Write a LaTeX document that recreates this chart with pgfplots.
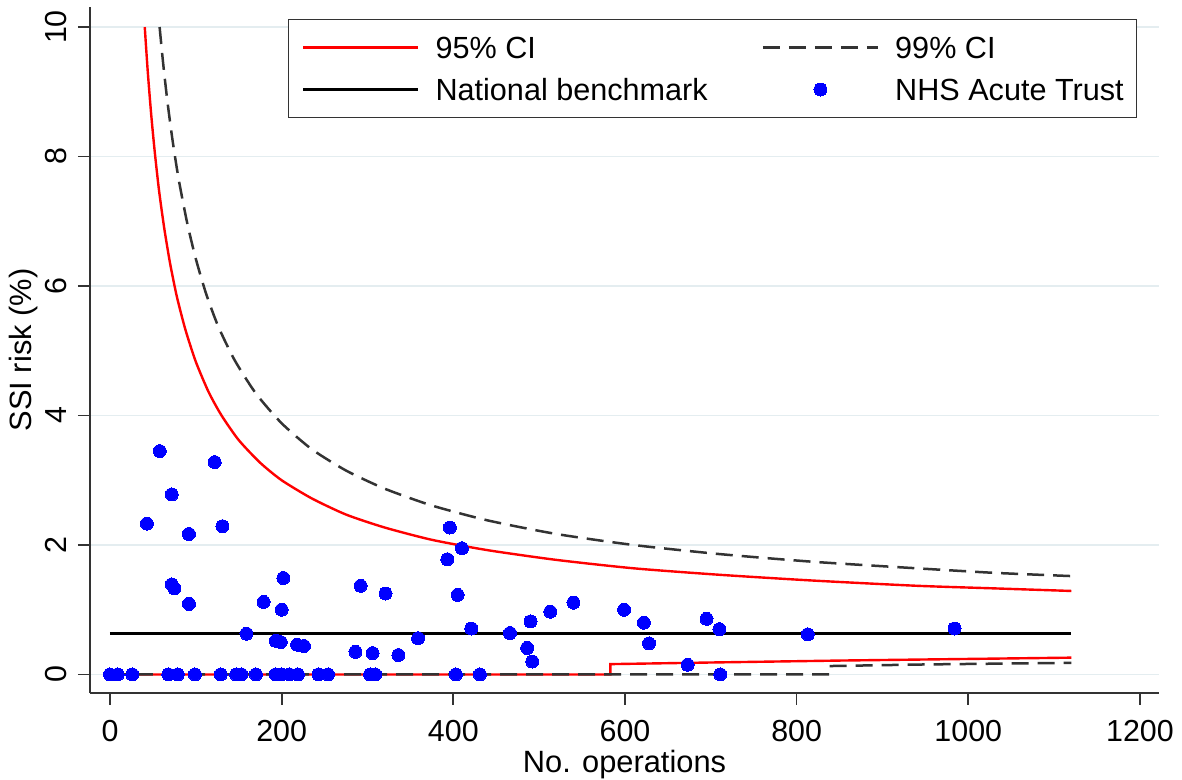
\documentclass[border=0pt]{standalone}
\usepackage{fontspec}
\setmainfont{Liberation Sans}
\usepackage{pgfplots}
\pgfplotsset{compat=1.18}
\definecolor{gridc}{RGB}{228,237,240}
\definecolor{dotblue}{RGB}{0,0,255}
\definecolor{ciRed}{RGB}{255,0,0}
\begin{document}
\begin{tikzpicture}
\begin{axis}[
  at={(45pt,43.5pt)}, anchor=south west,
  scale only axis, width=534.5pt, height=343pt,
  xmin=-23.3, xmax=1222.2, ymin=-0.286, ymax=10.31,
  axis x line*=bottom, axis y line*=left,
  axis line style={-, draw=black!80, line width=0.85pt},
  xtick={0,200,...,1200}, ytick={0,2,...,10},
  tick align=outside, major tick length=6pt,
  tick style={draw=black!80, line width=0.85pt},
  ymajorgrids, major grid style={draw=gridc, line width=0.9pt},
  /pgf/number format/assume math mode=true,
  /pgf/number format/1000 sep={},
  tick label style={font=\fontsize{15.2}{18}\selectfont, inner sep=0pt},
  xticklabel style={anchor=base, yshift=-18.3pt},
  yticklabel style={xshift=-5.65pt, rotate=90, anchor=base},
  xlabel={No. operations}, ylabel={SSI risk (\%)},
  label style={font=\fontsize{15.4}{18}\selectfont, inner sep=0pt},
  xlabel style={at={(axis description cs:0.5,-0.1165)}, anchor=base},
  ylabel style={at={(axis description cs:-0.0543,0.5)}, anchor=base},
  legend columns=2,
  legend cell align=left,
  legend style={at={(axis description cs:0.1852,0.9825)}, anchor=north west,
    draw=black!80, line width=0.6pt, font=\fontsize{15.3}{18}\selectfont,
    inner xsep=6.5pt, inner ysep=8.5pt,
    nodes={inner sep=0pt, text height=11pt, text depth=0pt},
    row sep=10pt,
    /tikz/every odd column/.append style={column sep=8pt},
    /tikz/every even column/.append style={column sep=27pt}},
  legend image code/.code={\draw[mark repeat=2, mark phase=2, #1] plot coordinates {(0pt,0pt) (28.75pt,0pt) (57.5pt,0pt)};},
]
% 95% CI upper
\addplot[ciRed, line width=1.2pt, smooth, tension=0.4] coordinates {
(40.5,10.0) (44,9.31) (48,8.65) (52,8.09) (57,7.49) (63,6.91) (70,6.35) (78,5.83)
(88,5.32) (100,4.83) (115,4.36) (130,4.00) (150,3.62) (175,3.27) (200,3.00)
(235,2.72) (275,2.47) (320,2.27) (375,2.08) (440,1.92) (520,1.77) (610,1.64)
(710,1.54) (820,1.45) (940,1.37) (1030,1.33) (1120,1.29)};
\addlegendentry{95\% CI}
% 95% CI lower
\addplot[ciRed, line width=1.2pt, forget plot] coordinates {
(0,0) (583,0) (583,0.16) (700,0.185) (850,0.215) (1000,0.24) (1120,0.26)};
% 99% CI upper
\addplot[black!80, line width=1.25pt, dash pattern=on 8.5pt off 4.5pt, smooth, tension=0.4] coordinates {
(57.8,10.0) (62,9.43) (67,8.84) (73,8.24) (80,7.65) (90,6.97) (100,6.42) (112,5.88)
(126,5.38) (145,4.86) (170,4.34) (200,3.88) (235,3.48) (275,3.15) (320,2.87)
(375,2.61) (440,2.38) (520,2.17) (610,2.00) (710,1.86) (820,1.74) (940,1.64)
(1030,1.57) (1120,1.52)};
\addlegendentry{99\% CI}
% 99% CI lower
\addplot[black!80, line width=1.25pt, dash pattern=on 8.5pt off 4.5pt, forget plot] coordinates {
(0,0) (838,0) (838,0.13) (950,0.155) (1120,0.18)};
% National benchmark
\addplot[black, line width=1.5pt] coordinates {(0,0.63) (1120,0.63)};
\addlegendentry{National benchmark}
% Trusts
\addplot[only marks, mark=*, mark size=3.25pt, mark options={draw=dotblue, fill=dotblue, line width=0pt}] coordinates {
(0,0) (9,0) (26,0) (68,0) (79,0) (99,0) (129,0) (147,0) (153,0) (170,0)
(193,0) (200,0) (209,0) (219,0) (243,0) (254,0) (303,0) (309,0) (403,0) (431,0) (711,0)
(43,2.33) (58,3.45) (72,2.78) (72,1.39) (75,1.33) (92,2.17) (92,1.09) (122,3.28)
(131,2.29) (159,0.63) (179,1.12) (193,0.52) (199,0.50) (200,1.00) (202,1.49)
(218,0.46) (226,0.44) (286,0.35) (292,1.37) (306,0.33) (321,1.25) (336,0.30)
(359,0.56) (393,1.78) (396,2.27) (405,1.23) (410,1.95) (421,0.71) (466,0.64)
(486,0.41) (490,0.82) (492,0.20) (513,0.97) (540,1.11) (599,1.00) (622,0.80)
(628,0.48) (673,0.15) (695,0.86) (710,0.70) (813,0.62) (984,0.71)};
\addlegendentry{NHS Acute Trust}
\end{axis}
\pgfresetboundingbox
\useasboundingbox (0,0) rectangle (591pt,390pt);
\end{tikzpicture}
\end{document}
